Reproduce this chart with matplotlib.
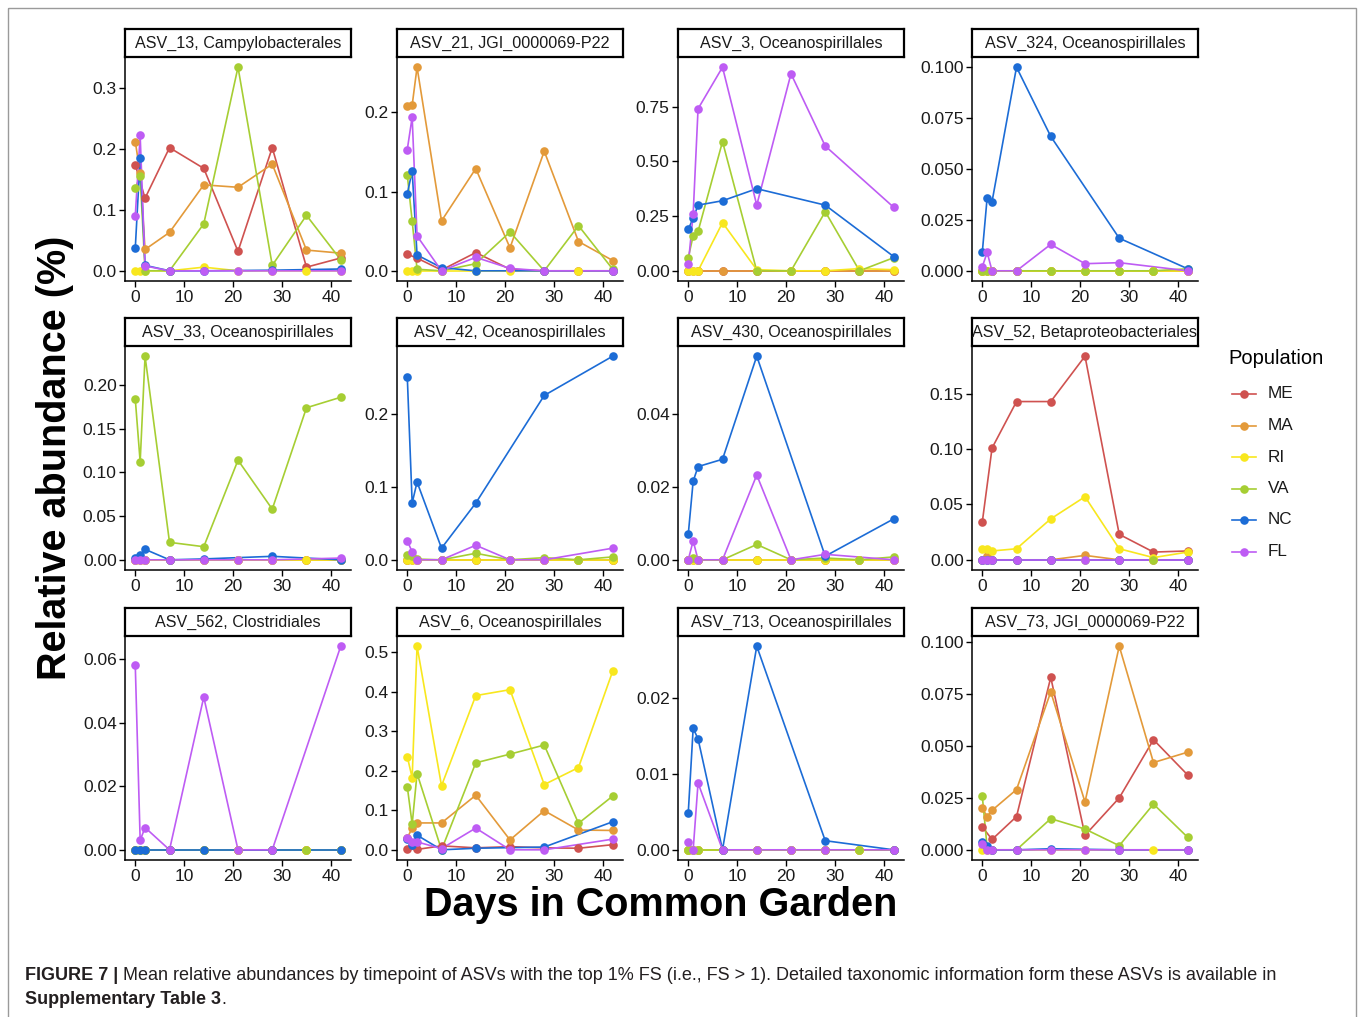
import matplotlib
matplotlib.use("Agg")
import matplotlib.pyplot as plt
from matplotlib.patches import Rectangle
from matplotlib.lines import Line2D
from matplotlib.ticker import FixedLocator, FuncFormatter

plt.rcParams['font.family'] = ['Liberation Sans', 'DejaVu Sans']

W, H = 1358, 1017

# ---------------- data ----------------
populations = ["ME", "MA", "RI", "VA", "NC", "FL"]
pop_colors = ["#CF5250", "#E39A3A", "#F8E71E", "#A6CE33", "#1C6CD6", "#BE5CF4"]

days_all = [0, 1, 2, 7, 14, 21, 28, 35, 42]
days_ME = [0, 2, 7, 14, 21, 28, 35, 42]
days_NC = [0, 1, 2, 7, 14, 28, 42]
days_FL = [0, 1, 2, 7, 14, 21, 28, 42]
pop_days = [days_ME, days_all, days_all, days_all, days_NC, days_FL]

panel_titles = ["ASV_13, Campylobacterales", "ASV_21, JGI_0000069-P22",
                "ASV_3, Oceanospirillales", "ASV_324, Oceanospirillales",
                "ASV_33, Oceanospirillales", "ASV_42, Oceanospirillales",
                "ASV_430, Oceanospirillales", "ASV_52, Betaproteobacteriales",
                "ASV_562, Clostridiales", "ASV_6, Oceanospirillales",
                "ASV_713, Oceanospirillales", "ASV_73, JGI_0000069-P22"]

z8 = [0, 0, 0, 0, 0, 0, 0, 0]
z9 = [0, 0, 0, 0, 0, 0, 0, 0, 0]
z7 = [0, 0, 0, 0, 0, 0, 0]

# order of each list: ME, MA, RI, VA, NC, FL
asv_13 = [[0.174, 0.119, 0.202, 0.168, 0.032, 0.202, 0.006, 0.021],
          [0.212, 0.160, 0.035, 0.063, 0.141, 0.137, 0.175, 0.034, 0.029],
          [0, 0, 0, 0, 0.006, 0, 0, 0, 0],
          [0.136, 0.155, 0.0, 0.0, 0.077, 0.334, 0.009, 0.091, 0.018],
          [0.037, 0.185, 0.009, 0.0, 0.0, 0.001, 0.003],
          [0.090, 0.222, 0.008, 0.0, 0.0, 0.0, 0.0, 0.0]]
asv_21 = [[0.021, 0.016, 0.001, 0.023, 0.002, 0.0, 0.0, 0.0],
          [0.208, 0.209, 0.257, 0.063, 0.129, 0.029, 0.151, 0.037, 0.013],
          z9,
          [0.121, 0.063, 0.002, 0.0, 0.009, 0.049, 0.0, 0.057, 0.002],
          [0.097, 0.126, 0.020, 0.004, 0.0, 0.0, 0.0],
          [0.153, 0.194, 0.044, 0.0, 0.017, 0.003, 0.0, 0.0]]
asv_3 = [z8,
         z9,
         [0, 0, 0, 0.220, 0.005, 0, 0, 0.010, 0.005],
         [0.060, 0.160, 0.180, 0.590, 0.0, 0.0, 0.270, 0.0, 0.060],
         [0.190, 0.240, 0.300, 0.320, 0.375, 0.300, 0.065],
         [0.030, 0.260, 0.740, 0.930, 0.300, 0.900, 0.570, 0.290]]
asv_324 = [z8,
           z9,
           z9,
           [0, 0, 0, 0, 0, 0, 0, 0, 0.001],
           [0.009, 0.036, 0.034, 0.100, 0.066, 0.016, 0.001],
           [0.002, 0.009, 0.0, 0.0, 0.013, 0.0035, 0.004, 0.0]]
asv_33 = [z8,
          z9,
          z9,
          [0.184, 0.112, 0.233, 0.020, 0.015, 0.114, 0.058, 0.174, 0.186],
          [0.002, 0.005, 0.012, 0.0, 0.001, 0.004, 0.0],
          [0, 0, 0, 0, 0, 0, 0, 0.002]]
asv_42 = [z8,
          z9,
          z9,
          [0.007, 0.005, 0.001, 0.0, 0.009, 0.0, 0.003, 0.0, 0.004],
          [0.252, 0.078, 0.107, 0.016, 0.078, 0.226, 0.280],
          [0.026, 0.011, 0.0, 0.0, 0.020, 0.0, 0.0, 0.016]]
asv_430 = [z8,
           z9,
           z9,
           [0, 0.0005, 0, 0, 0.0042, 0, 0.0005, 0, 0.0008],
           [0.0070, 0.0215, 0.0255, 0.0275, 0.0557, 0.0010, 0.0112],
           [0.0, 0.0052, 0.0, 0.0, 0.0232, 0.0, 0.0015, 0.0]]
asv_52 = [[0.034, 0.101, 0.143, 0.143, 0.184, 0.023, 0.007, 0.008],
          [0, 0.003, 0, 0, 0, 0.004, 0, 0, 0],
          [0.010, 0.0095, 0.008, 0.010, 0.037, 0.057, 0.010, 0.002, 0.007],
          z9,
          z7,
          z8]
asv_562 = [z8,
           z9,
           z9,
           z9,
           z7,
           [0.058, 0.003, 0.007, 0.0, 0.048, 0.0, 0.0, 0.064]]
asv_6 = [[0.002, 0.001, 0.010, 0.005, 0.008, 0.005, 0.004, 0.013],
         [0.030, 0.055, 0.068, 0.068, 0.138, 0.025, 0.099, 0.050, 0.049],
         [0.236, 0.182, 0.515, 0.162, 0.390, 0.405, 0.165, 0.208, 0.452],
         [0.160, 0.065, 0.193, 0.0, 0.220, 0.242, 0.265, 0.067, 0.136],
         [0.028, 0.013, 0.037, 0.0, 0.004, 0.007, 0.071],
         [0.030, 0.020, 0.020, 0.003, 0.055, 0.0, 0.0, 0.027]]
asv_713 = [z8,
           z9,
           z9,
           z9,
           [0.0049, 0.0160, 0.0146, 0.0, 0.0268, 0.0012, 0.0],
           [0.0010, 0.0, 0.0088, 0.0, 0.0, 0.0, 0.0, 0.0]]
asv_73 = [[0.011, 0.005, 0.016, 0.083, 0.007, 0.025, 0.053, 0.036],
          [0.020, 0.016, 0.019, 0.029, 0.076, 0.023, 0.098, 0.042, 0.047],
          z9,
          [0.026, 0.001, 0.0, 0.0, 0.015, 0.010, 0.002, 0.022, 0.006],
          [0.004, 0.002, 0.0, 0.0, 0.0005, 0.0, 0.0],
          [0.003, 0.0, 0.0, 0.0, 0.0, 0.0, 0.0, 0.0]]

panel_data = [asv_13, asv_21, asv_3, asv_324, asv_33, asv_42,
              asv_430, asv_52, asv_562, asv_6, asv_713, asv_73]

panel_yticks = [[0.0, 0.1, 0.2, 0.3], [0.0, 0.1, 0.2], [0.0, 0.25, 0.5, 0.75],
                [0.0, 0.025, 0.05, 0.075, 0.1], [0.0, 0.05, 0.1, 0.15, 0.2],
                [0.0, 0.1, 0.2], [0.0, 0.02, 0.04], [0.0, 0.05, 0.1, 0.15],
                [0.0, 0.02, 0.04, 0.06], [0.0, 0.1, 0.2, 0.3, 0.4, 0.5],
                [0.0, 0.01, 0.02], [0.0, 0.025, 0.05, 0.075, 0.1]]
panel_decimals = [1, 1, 2, 3, 2, 1, 2, 2, 2, 1, 2, 3]
x_ticks = [0, 10, 20, 30, 40]

y_label = "Relative abundance (%)"
x_label = "Days in Common Garden"
legend_title = "Population"
caption_bold1 = "FIGURE 7 |"
caption_text1 = (" Mean relative abundances by timepoint of ASVs with the top 1% FS (i.e., FS > 1). "
                 "Detailed taxonomic information form these ASVs is available in")
caption_bold2 = "Supplementary Table 3"
caption_text2 = "."

# ---------------- layout ----------------
fig = plt.figure(figsize=(W / 100, H / 100), dpi=100)
fig.patch.set_facecolor("white")

col_left = [125, 397, 678, 972]
panel_w = 226
row_top = [57, 346, 636]
panel_h = 224
strip_h = 28
tick_fs = 12.5


def px_rect(x0, y0, w, h):
    return [x0 / W, 1 - (y0 + h) / H, w / W, h / H]


for i, (title, data) in enumerate(zip(panel_titles, panel_data)):
    r, c = divmod(i, 4)
    ax = fig.add_axes(px_rect(col_left[c], row_top[r], panel_w, panel_h))
    ymax = 0.0
    for pop, col, dd, vals in zip(populations, pop_colors, pop_days, data):
        ax.plot(dd, vals, color=col, lw=1.2, zorder=2, solid_capstyle='round')
        ymax = max(ymax, max(vals))
    for pop, col, dd, vals in zip(populations, pop_colors, pop_days, data):
        ax.plot(dd, vals, ls='none', marker='o', ms=6.2, color=col,
                markeredgewidth=0, zorder=3)
    pad = 0.05 * ymax
    ax.set_ylim(-pad, ymax + pad)
    ax.set_xlim(-2.1, 44.1)
    ax.xaxis.set_major_locator(FixedLocator(x_ticks))
    ax.yaxis.set_major_locator(FixedLocator(panel_yticks[i]))
    d = panel_decimals[i]
    ax.yaxis.set_major_formatter(FuncFormatter(lambda v, p, d=d: f"{v:.{d}f}"))
    for s in ["top", "right"]:
        ax.spines[s].set_visible(False)
    for s in ["left", "bottom"]:
        ax.spines[s].set_linewidth(1.1)
        ax.spines[s].set_color("black")
    ax.tick_params(axis='both', direction='out', length=4, width=1.0,
                   color='black', labelsize=tick_fs, labelcolor='#1a1a1a', pad=2)
    ax.tick_params(axis='x', pad=2.5)
    ax.set_facecolor('white')
    # strip
    sx = fig.add_axes(px_rect(col_left[c], row_top[r] - strip_h, panel_w, strip_h))
    sx.set_xticks([])
    sx.set_yticks([])
    for s in sx.spines.values():
        s.set_linewidth(1.6)
        s.set_color("black")
    sx.text(0.5, 0.5, title, ha='center', va='center', fontsize=11.6,
            color='#1a1a1a', transform=sx.transAxes)

# overlay axes in pixel coordinates
ov = fig.add_axes([0, 0, 1, 1], zorder=-1)
ov.set_xlim(0, W)
ov.set_ylim(H, 0)
ov.axis('off')

ov.add_patch(Rectangle((8, 8), 1348, H + 10, fill=False, edgecolor='#9a9a9a', lw=1.0))

ov.text(55, 458, y_label, rotation=90, ha='center', va='center',
        fontsize=28.5, fontweight='bold', color='black')
ov.text(661, 905, x_label, ha='center', va='center',
        fontsize=28.5, fontweight='bold', color='black')

# legend
ov.text(1228, 359, legend_title, ha='left', va='center', fontsize=14.5, color='black')
leg_y0 = 394
leg_dy = 31.5
for k, (pop, col) in enumerate(zip(populations, pop_colors)):
    y = leg_y0 + k * leg_dy
    ov.add_line(Line2D([1232, 1256], [y, y], color=col, lw=1.2))
    ov.plot([1244], [y], marker='o', ms=6.2, color=col, markeredgewidth=0)
    ov.text(1268, y, pop, ha='left', va='center', fontsize=12.3, color='#1a1a1a')

# caption with mixed bold
fig.canvas.draw()
renderer = fig.canvas.get_renderer()
cap_color = '#231f20'
cap_size = 13
t1 = ov.text(25, 975, caption_bold1, ha='left', va='center', fontsize=cap_size,
             fontweight='bold', color=cap_color)
bb = t1.get_window_extent(renderer)
fig.text(bb.x1 / W, 1 - 975 / H, caption_text1, ha='left', va='center',
         fontsize=cap_size, color=cap_color)
t3 = ov.text(25, 1000, caption_bold2, ha='left', va='center', fontsize=cap_size,
             fontweight='bold', color=cap_color)
bb3 = t3.get_window_extent(renderer)
fig.text(bb3.x1 / W, 1 - 1000 / H, caption_text2, ha='left', va='center',
         fontsize=cap_size, color=cap_color)

fig.savefig("out.png", dpi=100, facecolor='white')
